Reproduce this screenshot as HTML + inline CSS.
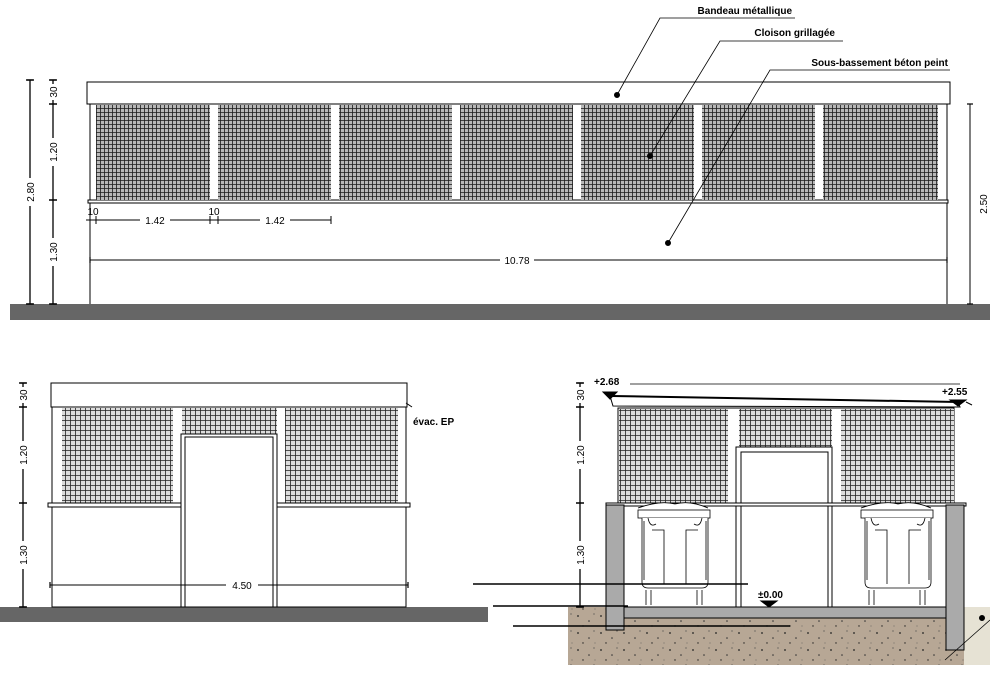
<!DOCTYPE html>
<html><head><meta charset="utf-8"><style>
html,body{margin:0;padding:0;background:#fff;}
svg{display:block;}
text{font-family:"Liberation Sans",Arial,sans-serif;}
</style></head><body>
<svg width="990" height="678" viewBox="0 0 990 678" xmlns="http://www.w3.org/2000/svg">
<defs>
<pattern id="m1" width="4" height="4" patternUnits="userSpaceOnUse">
<rect width="4" height="4" fill="#b8b8b8"/><path d="M0 0.5H4M0.5 0V4" stroke="#1a1a1a" stroke-width="0.8"/>
</pattern>
<pattern id="m2" width="5" height="5" patternUnits="userSpaceOnUse">
<rect width="5" height="5" fill="#dcdcdc"/><path d="M0 0.5H5M0.5 0V5" stroke="#222" stroke-width="0.8"/>
</pattern>
<pattern id="soil" width="23" height="17" patternUnits="userSpaceOnUse">
<rect width="23" height="17" fill="#b7a795"/>
<circle cx="3" cy="4" r="0.9" fill="#222"/><circle cx="14" cy="9" r="0.8" fill="#333"/><circle cx="8" cy="14" r="0.7" fill="#222"/><circle cx="19" cy="2" r="0.6" fill="#444"/><circle cx="20" cy="14" r="0.5" fill="#555"/>
</pattern>
<marker id="t" markerWidth="6" markerHeight="6" refX="3" refY="3" orient="auto"><path d="M3 0V6" stroke="#000" stroke-width="1.2"/></marker>
</defs>
<g fill="none" stroke="#000" stroke-width="1">

<!-- TOP ELEVATION -->
<rect x="10" y="304" width="980" height="16" fill="#666" stroke="none"/>
<line x1="90" y1="203" x2="90" y2="304"/><line x1="947" y1="203" x2="947" y2="304"/>
<rect x="88" y="200" width="860" height="3" fill="#fff"/>
<rect x="90" y="104" width="857" height="96" fill="#fff"/>
<g fill="url(#m1)" stroke="none">
<rect x="96" y="105" width="114" height="95"/><rect x="218" y="105" width="113" height="95"/>
<rect x="339" y="105" width="113" height="95"/><rect x="460" y="105" width="113" height="95"/>
<rect x="581" y="105" width="113" height="95"/><rect x="702" y="105" width="113" height="95"/>
<rect x="823" y="105" width="115" height="95"/>
</g>
<rect x="87" y="82" width="863" height="22" fill="#fff"/>
<circle cx="617" cy="95" r="2.5" fill="#000"/>
<circle cx="650" cy="156" r="2.5" fill="#000"/>
<circle cx="668" cy="243" r="2.5" fill="#000"/>
<polyline points="617,95 660,18 795,18" stroke-width="0.8"/>
<polyline points="650,156 720,41 843,41" stroke-width="0.8"/>
<polyline points="668,243 770,70 950,70" stroke-width="0.8"/>
<!-- dims -->
<line x1="30" y1="80" x2="30" y2="304" marker-start="url(#t)" marker-end="url(#t)" stroke-width="1.3"/>
<line x1="53" y1="80" x2="53" y2="304" marker-start="url(#t)" marker-end="url(#t)" stroke-width="1.3"/>
<path d="M49 104H57M49 200H57" stroke-width="1.5"/>
<line x1="970" y1="104" x2="970" y2="304" marker-start="url(#t)" marker-end="url(#t)"/>
<line x1="86" y1="220" x2="331" y2="220"/>
<path d="M90 216V224M96 216V224M210 216V224M218 216V224M331 216V224"/>
<line x1="90" y1="260" x2="947" y2="260" marker-start="url(#t)" marker-end="url(#t)"/>

<!-- BOTTOM LEFT -->
<rect x="0" y="607" width="488" height="15" fill="#666" stroke="none"/>
<rect x="52" y="507" width="354" height="100" fill="#fff"/>
<rect x="52" y="407" width="354" height="96" fill="#fff"/>
<g fill="url(#m2)" stroke="none">
<rect x="62" y="408" width="111" height="95"/><rect x="182" y="408" width="95" height="27"/><rect x="285" y="408" width="113" height="95"/>
</g>
<rect x="48" y="503" width="362" height="4" fill="#fff"/>
<rect x="181" y="434" width="96" height="173" fill="#fff"/>
<rect x="185" y="437" width="88" height="170" fill="#fff"/>
<rect x="51" y="383" width="356" height="24" fill="#fff"/>
<path d="M406 403L412 407"/>
<line x1="23" y1="383" x2="23" y2="607" marker-start="url(#t)" marker-end="url(#t)" stroke-width="1.3"/>
<path d="M19 407H27M19 503H27" stroke-width="1.5"/>
<line x1="50" y1="585" x2="408" y2="585" marker-start="url(#t)" marker-end="url(#t)"/>

<!-- BOTTOM RIGHT -->
<rect x="568" y="607" width="422" height="58" fill="url(#soil)" stroke="none"/>
<rect x="964" y="607" width="26" height="58" fill="#e6e2d4" stroke="none"/>
<rect x="624" y="607" width="322" height="11" fill="#aaa"/>
<rect x="618" y="408" width="336" height="97" fill="#fff"/>
<g fill="url(#m2)" stroke="none">
<rect x="619" y="409" width="109" height="96"/><rect x="739" y="409" width="93" height="40"/><rect x="841" y="409" width="113" height="96"/>
</g>
<rect x="736" y="447" width="96" height="160" fill="#fff"/>
<rect x="741" y="452" width="87" height="155" fill="#fff"/>
<rect x="606" y="503" width="360" height="3" fill="#fff"/>
<rect x="606" y="505" width="18" height="125" fill="#aaa"/>
<rect x="946" y="505" width="18" height="145" fill="#aaa"/>
<polygon points="610,396 958,402 960,407 613,406" fill="#fff"/>
<line x1="612" y1="396" x2="958" y2="402" stroke-width="2"/>
<line x1="630" y1="384" x2="960" y2="384" stroke-width="0.7"/>
<path d="M603 392H617L610 399Z" fill="#000"/>
<path d="M950 400H966L958 406Z" fill="#000"/>
<path d="M966 402L972 405"/>
<!-- bins -->
<g stroke-width="0.8">
<path d="M638 508Q660 500 675 504Q690 500 708 508" fill="#fff"/>
<rect x="638" y="510" width="72" height="8" fill="#fff"/>
<path d="M642 518V582Q642 588 648 588H702Q708 588 708 582V518" fill="#fff"/>
<path d="M644 521V580M706 521V580M652 530H664V584M698 530H686V584M648 518Q650 528 656 524M702 518Q700 528 694 524"/>
<path d="M646 590V605M651 590V605M697 590V605M702 590V605"/>
<path d="M861 508Q883 500 898 504Q913 500 931 508" fill="#fff"/>
<rect x="861" y="510" width="72" height="8" fill="#fff"/>
<path d="M865 518V582Q865 588 871 588H925Q931 588 931 582V518" fill="#fff"/>
<path d="M867 521V580M929 521V580M875 530H887V584M921 530H909V584M871 518Q873 528 879 524M925 518Q923 528 917 524"/>
<path d="M869 590V605M874 590V605M920 590V605M925 590V605"/>
</g>
<line x1="473" y1="584" x2="748" y2="584" stroke-width="1.5"/>
<line x1="493" y1="606" x2="628" y2="606" stroke-width="1.5"/>
<line x1="513" y1="626" x2="790" y2="626" stroke-width="1.5"/>
<path d="M761 601H777L769 607Z" fill="#000"/>
<line x1="580" y1="383" x2="580" y2="607" marker-start="url(#t)" marker-end="url(#t)" stroke-width="1.3"/>
<path d="M576 407H584M576 503H584" stroke-width="1.5"/>
<path d="M945 660L990 620" stroke-width="0.7"/>
<circle cx="982" cy="618" r="2.5" fill="#000"/>
</g>

<!-- TEXT -->
<g font-size="10" fill="#000">
<text x="792" y="14" font-weight="bold" text-anchor="end">Bandeau métallique</text>
<text x="835" y="36" font-weight="bold" text-anchor="end">Cloison grillagée</text>
<text x="948" y="66" font-weight="bold" text-anchor="end">Sous-bassement béton peint</text>
<text x="93" y="215" text-anchor="middle">10</text>
<text x="214" y="215" text-anchor="middle">10</text>
<rect x="140" y="214" width="30" height="12" fill="#fff"/><text x="155" y="224" text-anchor="middle">1.42</text>
<rect x="260" y="214" width="30" height="12" fill="#fff"/><text x="275" y="224" text-anchor="middle">1.42</text>
<rect x="500" y="254" width="34" height="12" fill="#fff"/><text x="517" y="264" text-anchor="middle">10.78</text>
<rect x="226" y="579" width="32" height="12" fill="#fff"/><text x="242" y="589" text-anchor="middle">4.50</text>
<text x="413" y="425" font-weight="bold">évac. EP</text>
<text x="594" y="385" font-weight="bold">+2.68</text>
<text x="942" y="395" font-weight="bold">+2.55</text>
<text x="758" y="598" font-weight="bold">±0.00</text>
</g>
<g font-size="10" fill="#000" text-anchor="middle">
<g transform="translate(34,192) rotate(-90)"><rect x="-14" y="-10" width="28" height="12" fill="#fff"/><text x="0" y="0">2.80</text></g>
<g transform="translate(57,92) rotate(-90)"><rect x="-8" y="-10" width="16" height="12" fill="#fff"/><text x="0" y="0">30</text></g>
<g transform="translate(57,152) rotate(-90)"><rect x="-14" y="-10" width="28" height="12" fill="#fff"/><text x="0" y="0">1.20</text></g>
<g transform="translate(57,252) rotate(-90)"><rect x="-14" y="-10" width="28" height="12" fill="#fff"/><text x="0" y="0">1.30</text></g>
<g transform="translate(987,204) rotate(-90)"><rect x="-14" y="-10" width="28" height="12" fill="#fff"/><text x="0" y="0">2.50</text></g>
<g transform="translate(27,395) rotate(-90)"><rect x="-8" y="-10" width="16" height="12" fill="#fff"/><text x="0" y="0">30</text></g>
<g transform="translate(27,455) rotate(-90)"><rect x="-14" y="-10" width="28" height="12" fill="#fff"/><text x="0" y="0">1.20</text></g>
<g transform="translate(27,555) rotate(-90)"><rect x="-14" y="-10" width="28" height="12" fill="#fff"/><text x="0" y="0">1.30</text></g>
<g transform="translate(584,395) rotate(-90)"><rect x="-8" y="-10" width="16" height="12" fill="#fff"/><text x="0" y="0">30</text></g>
<g transform="translate(584,455) rotate(-90)"><rect x="-14" y="-10" width="28" height="12" fill="#fff"/><text x="0" y="0">1.20</text></g>
<g transform="translate(584,555) rotate(-90)"><rect x="-14" y="-10" width="28" height="12" fill="#fff"/><text x="0" y="0">1.30</text></g>
</g>
</svg>
</body></html>
